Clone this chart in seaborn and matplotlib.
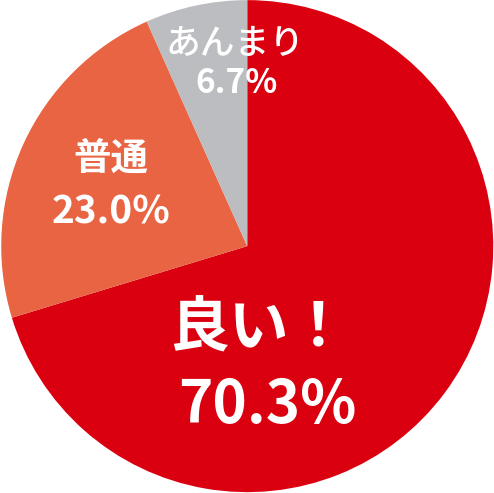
import matplotlib
matplotlib.use("Agg")
import matplotlib.pyplot as plt
import seaborn as sns

# --- data ---
labels = ["良い！", "普通", "あんまり"]
shares = [70.3, 23.0, 6.7]
colors = ["#da000f", "#e86443", "#bcbdc0"]

sns.set_theme(style="white")
plt.rcParams['font.family'] = ['Noto Sans CJK JP', 'DejaVu Sans']
palette = sns.color_palette(colors)

fig = plt.figure(figsize=(4.94, 4.93), dpi=100)
ax = fig.add_axes([0, 0, 1, 1])
ax.pie(shares, colors=palette, startangle=90, counterclock=False,
       wedgeprops=dict(linewidth=0))
ax.set_xlim(-1.005, 1.003)
ax.set_ylim(-1.003, 1.0)
ax.set_aspect('equal')
ax.axis('off')

# label text placement: name pos, value pos, name size, value size, name weight
pos = {
    "良い！": ((0.045, -0.34), (0.083, -0.648), 43, 42, 'bold'),
    "普通": ((-0.555, 0.358), (-0.555, 0.14), 27, 28, 'bold'),
    "あんまり": ((-0.048, 0.823), (-0.045, 0.66), 25, 24, 'medium'),
}
for lab, val in zip(labels, shares):
    (nx, ny), (vx, vy), nfs, vfs, w = pos[lab]
    ax.text(nx, ny, lab, ha='center', va='center', color='white',
            fontsize=nfs, fontweight=w)
    ax.text(vx, vy, f"{val:.1f}%", ha='center', va='center', color='white',
            fontsize=vfs, fontweight='bold')

fig.savefig("out.png", dpi=100)
